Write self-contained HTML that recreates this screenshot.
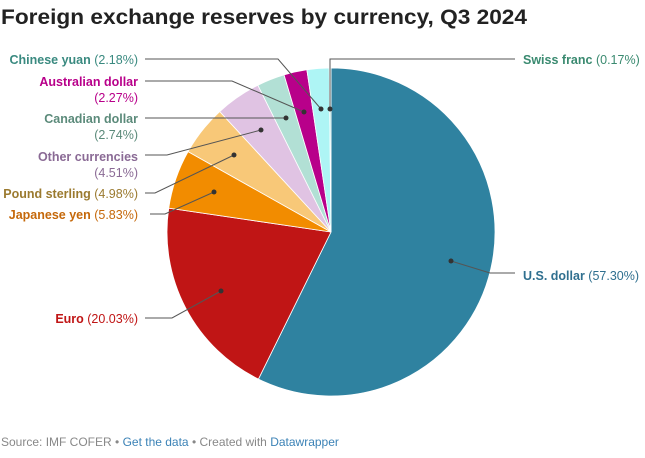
<!DOCTYPE html>
<html><head><meta charset="utf-8"><style>
body{margin:0;background:#fff;width:645px;height:453px;overflow:hidden;font-family:"Liberation Sans",sans-serif}
</style></head><body>
<svg width="645" height="453" xmlns="http://www.w3.org/2000/svg" font-family="Liberation Sans, sans-serif">
<text x="1" y="24" font-size="21.5" font-weight="bold" fill="#222" textLength="526" lengthAdjust="spacingAndGlyphs">Foreign exchange reserves by currency, Q3 2024</text>
<g id="pie"></g>
<g stroke="#555" stroke-width="1" fill="none">
<polyline points="145,59 278,59 321,109"/>
<polyline points="145,81 232,81 304,112"/>
<polyline points="145,118 286,118"/>
<polyline points="145,155 167,155 261,130"/>
<polyline points="145,193 155,193 234,155"/>
<polyline points="150,214 165,214 214,192"/>
<polyline points="145,318 172,318 221,291"/>
<polyline points="451,261 490,273 515,273"/>
<polyline points="330,109 330,59 515,59"/>
</g>
<g fill="#333">
<circle cx="321" cy="109" r="2.5"/><circle cx="304" cy="112" r="2.5"/><circle cx="286" cy="118" r="2.5"/>
<circle cx="261" cy="130" r="2.5"/><circle cx="234" cy="155" r="2.5"/><circle cx="214" cy="192" r="2.5"/>
<circle cx="221" cy="291" r="2.5"/><circle cx="451" cy="261" r="2.5"/><circle cx="330" cy="109" r="2.5"/>
</g>
<g font-size="12.5" text-anchor="end">
<text x="138" y="64" fill="#3a8a80"><tspan font-weight="bold">Chinese yuan</tspan> (2.18%)</text>
<text x="138" y="86" fill="#b8008a" font-weight="bold">Australian dollar</text>
<text x="138" y="102" fill="#b8008a">(2.27%)</text>
<text x="138" y="123" fill="#5b8a7a" font-weight="bold">Canadian dollar</text>
<text x="138" y="139" fill="#5b8a7a">(2.74%)</text>
<text x="138" y="161" fill="#8a6a95" font-weight="bold">Other currencies</text>
<text x="138" y="177" fill="#8a6a95">(4.51%)</text>
<text x="138" y="198" fill="#9b7a2f"><tspan font-weight="bold">Pound sterling</tspan> (4.98%)</text>
<text x="138" y="219" fill="#c5680a"><tspan font-weight="bold">Japanese yen</tspan> (5.83%)</text>
<text x="138" y="323" fill="#c01515"><tspan font-weight="bold">Euro</tspan> (20.03%)</text>
</g>
<g font-size="12.5">
<text x="523" y="64" fill="#3a8a70"><tspan font-weight="bold">Swiss franc</tspan> (0.17%)</text>
<text x="523" y="280" fill="#2f6f8f"><tspan font-weight="bold">U.S. dollar</tspan> (57.30%)</text>
</g>
<text x="1" y="446" font-size="12" fill="#888">Source: IMF COFER • <tspan fill="#3b82b6">Get the data</tspan> • Created with <tspan fill="#3b82b6">Datawrapper</tspan></text>
</svg>
<script>
var d=[[57.30,"#2f82a0"],[20.03,"#c01515"],[5.83,"#f28c00"],[4.98,"#f8c878"],[4.51,"#e0c3e3"],[2.74,"#b2e0d5"],[2.27,"#b8008a"],[2.18,"#aef5f5"],[0.17,"#9fd8d0"]];
var cx=331,cy=232,r=164,a=0,s="",tot=100.01;
d.forEach(function(e){var a2=a+e[0]/tot*2*Math.PI;
var x1=cx+r*Math.sin(a),y1=cy-r*Math.cos(a),x2=cx+r*Math.sin(a2),y2=cy-r*Math.cos(a2);
s+='<path d="M'+cx+','+cy+'L'+x1+','+y1+'A'+r+','+r+' 0 '+((a2-a)>Math.PI?1:0)+' 1 '+x2+','+y2+'Z" fill="'+e[1]+'" stroke="#fff" stroke-width="0.8"/>';a=a2;});
document.getElementById("pie").innerHTML=s;
</script>
</body></html>
